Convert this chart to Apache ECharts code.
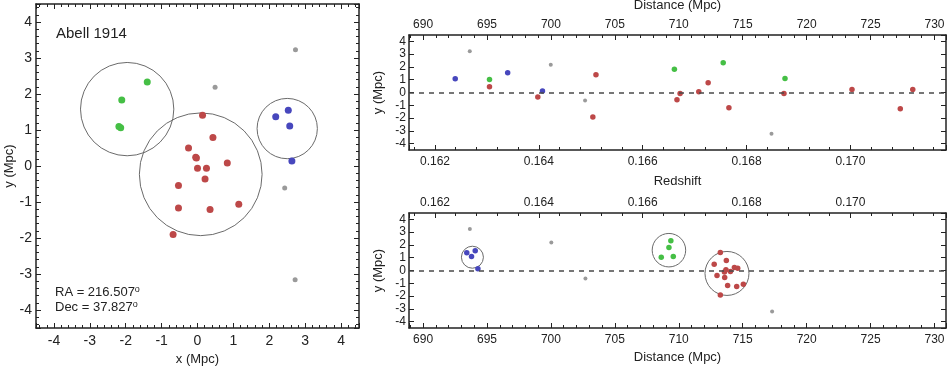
<!DOCTYPE html>
<html>
<head>
<meta charset="utf-8">
<script src="https://cdn.jsdelivr.net/npm/echarts@6/dist/echarts.min.js"></script>
<style>
  html, body { margin: 0; padding: 0; background: #fff; }
  #demo { width: 948px; height: 368px; }
</style>
</head>
<body>
<div id="demo"></div>
<script>
// sky plane positions, [x, y] in Mpc
const skyRed = [[0.14, 1.41], [0.43, 0.79], [-0.25, 0.50], [-0.05, 0.24], [-0.03, 0.22], [0.83, 0.08], [0.00, -0.06],
  [0.25, -0.06], [0.21, -0.36], [-0.53, -0.54], [-0.53, -1.17], [0.35, -1.21], [1.15, -1.06], [-0.68, -1.90]]
const skyGreen = [[-1.40, 2.33], [-2.11, 1.83], [-2.19, 1.10], [-2.14, 1.06]]
const skyBlue = [[2.18, 1.37], [2.53, 1.55], [2.57, 1.11], [2.63, 0.14]]
const skyGray = [[2.73, 3.23], [0.49, 2.19], [2.43, -0.61], [2.72, -3.16]]
// group circles, [x, y, radius] in Mpc
const skyCircles = [[-1.96, 1.58, 1.30], [0.09, -0.23, 1.71], [2.50, 1.04, 0.84]]

// redshift vs y
const zRed = [[0.16305, 0.45], [0.16398, -0.36], [0.16510, 1.39], [0.16504, -1.91], [0.16666, -0.57], [0.16672, -0.08],
  [0.16708, 0.05], [0.16726, 0.76], [0.16766, -1.20], [0.16872, -0.08], [0.17003, 0.24], [0.17096, -1.28], [0.17120, 0.24]]
const zGreen = [[0.16305, 1.02], [0.16661, 1.81], [0.16755, 2.33], [0.16874, 1.10]]
const zBlue = [[0.16239, 1.08], [0.16340, 1.55], [0.16407, 0.11]]
const zGray = [[0.16267, 3.22], [0.16423, 2.17], [0.16489, -0.63], [0.16848, -3.22]]

// distance vs y
const dRed = [[713.25, 1.41], [713.72, 0.78], [712.77, 0.49], [714.35, 0.24], [714.61, 0.18], [713.69, 0.05], [713.57, -0.11],
  [714.04, -0.08], [712.99, -0.39], [713.59, -0.55], [713.82, -1.18], [714.53, -1.26], [715.05, -1.08], [713.25, -1.91]]
const dGreen = [[709.38, 2.32], [709.23, 1.80], [708.63, 1.04], [709.57, 1.10]]
const dBlue = [[693.42, 1.38], [694.08, 1.54], [693.79, 1.10], [694.29, 0.13]]
const dGray = [[693.66, 3.24], [700.03, 2.20], [702.70, -0.63], [717.30, -3.20]]
const dCircles = [[709.23, 1.59, 1.31], [713.77, -0.23, 1.72], [693.86, 1.04, 0.86]]

// axis ranges
const skyRange = [-4.5, 4.5]
const yRange = [-4.5, 4.5]
const zRange = [0.1615, 0.17184]
const distRange = [688.9, 730.9]

const RED = '#bd4848'
const GREEN = '#45bf45'
const BLUE = '#4747bd'
const GRAY = '#9a9a9a'
const INK = '#222'

function axis (grid, pos, range, split, opts) {
  opts = opts || {}
  return {
    type: 'value',
    gridIndex: grid,
    position: pos,
    min: range[0],
    max: range[1],
    splitNumber: split,
    splitLine: { show: false },
    axisLine: { show: true, onZero: false, lineStyle: { color: INK, width: 1.5 } },
    axisTick: { show: true, inside: true, length: 5, lineStyle: { color: INK, width: 1 } },
    minorTick: { show: opts.minor !== false, splitNumber: 5, length: 3, lineStyle: { color: INK, width: 1 } },
    axisLabel: {
      show: !!opts.labels,
      color: INK,
      fontSize: opts.fontSize || 12,
      margin: opts.margin || 6,
      showMinLabel: false,
      showMaxLabel: false,
      formatter: opts.fmt
    },
    name: opts.name || '',
    nameLocation: 'middle',
    nameGap: opts.nameGap || 20,
    nameTextStyle: { color: INK, fontSize: 13 },
    axisPointer: { show: false }
  }
}

const zFmt = v => v.toFixed(3)

function dots (x, y, data, color, size) {
  return {
    type: 'scatter', xAxisIndex: x, yAxisIndex: y, data: data, symbolSize: size,
    itemStyle: { color: color, opacity: 1 }, silent: true
  }
}

function circles (x, y, data) {
  return {
    type: 'custom', xAxisIndex: x, yAxisIndex: y, data: data, silent: true,
    renderItem: function (params, api) {
      const c = api.coord([api.value(0), api.value(1)])
      const r = api.size([api.value(2), 0])[0]
      return { type: 'circle', shape: { cx: c[0], cy: c[1], r: r }, style: { fill: 'none', stroke: '#6a6a6a', lineWidth: 1 } }
    }
  }
}

function zeroLine (x, y) {
  return {
    type: 'scatter', xAxisIndex: x, yAxisIndex: y, data: [], silent: true,
    markLine: {
      silent: true, symbol: 'none', label: { show: false },
      lineStyle: { color: '#4a4a4a', width: 1.5, type: [5, 5] },
      data: [{ yAxis: 0 }]
    }
  }
}

const chart = echarts.init(document.getElementById('demo'))
const option = {
  animation: false,
  textStyle: { fontFamily: 'Liberation Sans, Arial, sans-serif' },
  grid: [
    { left: 36, top: 4, width: 323, height: 324, outerBoundsMode: 'none' },
    { left: 409, top: 35, width: 537, height: 115, outerBoundsMode: 'none' },
    { left: 409, top: 213, width: 537, height: 115, outerBoundsMode: 'none' }
  ],
  xAxis: [
    axis(0, 'bottom', skyRange, 9, { labels: true, fontSize: 14, margin: 6, name: 'x (Mpc)', nameGap: 23 }),
    axis(0, 'top', skyRange, 9),
    axis(1, 'bottom', zRange, 5, { labels: true, margin: 6, fmt: zFmt, name: 'Redshift', nameGap: 25 }),
    axis(1, 'top', distRange, 8, { labels: true, margin: 4, name: 'Distance (Mpc)', nameGap: 23 }),
    axis(2, 'bottom', distRange, 8, { labels: true, margin: 6, name: 'Distance (Mpc)', nameGap: 23 }),
    axis(2, 'top', zRange, 5, { labels: true, margin: 4, fmt: zFmt })
  ],
  yAxis: [
    axis(0, 'left', skyRange, 9, { labels: true, fontSize: 14, margin: 4, name: 'y (Mpc)', nameGap: 19 }),
    axis(0, 'right', skyRange, 9),
    axis(1, 'left', yRange, 9, { labels: true, margin: 3, minor: false, name: 'y (Mpc)', nameGap: 24 }),
    axis(1, 'right', yRange, 9, { minor: false }),
    axis(2, 'left', yRange, 9, { labels: true, margin: 3, minor: false, name: 'y (Mpc)', nameGap: 24 }),
    axis(2, 'right', yRange, 9, { minor: false })
  ],
  graphic: [
    { type: 'text', left: 56, top: 26, style: { text: 'Abell 1914', fontSize: 15, fill: INK, fontFamily: 'Liberation Sans, Arial, sans-serif' } },
    {
      type: 'text', left: 55, top: 285,
      style: {
        text: '{t|RA = 216.507}{s|o}\n{t|Dec = 37.827}{s|o}',
        fill: INK,
        rich: {
          t: { fontSize: 13, lineHeight: 15, fontFamily: 'Liberation Sans, Arial, sans-serif', fill: INK },
          s: { fontSize: 9, lineHeight: 15, verticalAlign: 'top', fontFamily: 'Liberation Sans, Arial, sans-serif', fill: INK, padding: [0, 0, 6, 0] }
        }
      }
    }
  ],
  series: [
    circles(0, 0, skyCircles),
    dots(0, 0, skyGray, GRAY, 5),
    dots(0, 0, skyRed, RED, 7),
    dots(0, 0, skyGreen, GREEN, 7),
    dots(0, 0, skyBlue, BLUE, 7),

    zeroLine(2, 2),
    dots(2, 2, zGray, GRAY, 4),
    dots(2, 2, zRed, RED, 5.5),
    dots(2, 2, zGreen, GREEN, 5.5),
    dots(2, 2, zBlue, BLUE, 5.5),

    zeroLine(4, 4),
    circles(4, 4, dCircles),
    dots(4, 4, dGray, GRAY, 4),
    dots(4, 4, dRed, RED, 5.5),
    dots(4, 4, dGreen, GREEN, 5.5),
    dots(4, 4, dBlue, BLUE, 5.5)
  ]
}
chart.setOption(option)
</script>
</body>
</html>
